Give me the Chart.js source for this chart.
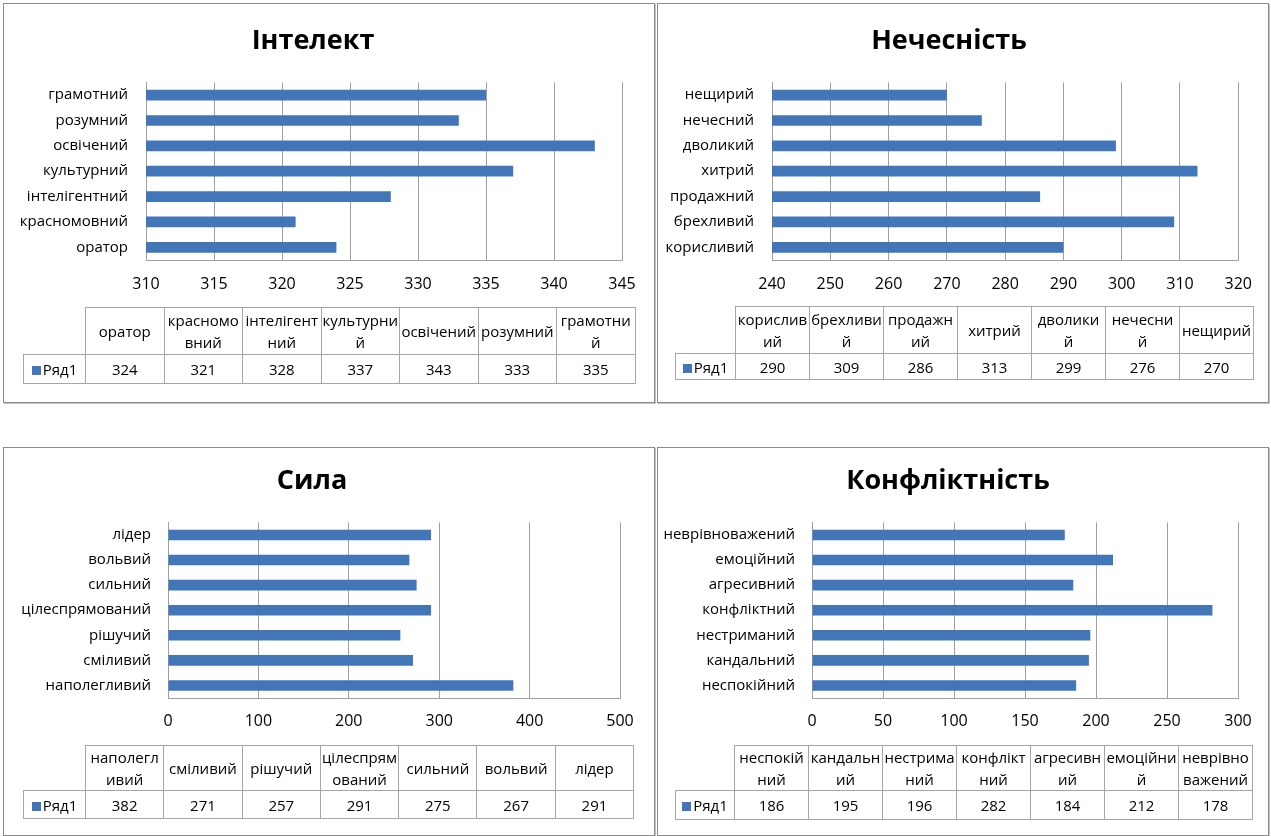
<!DOCTYPE html>
<html>
<head>
<meta charset="utf-8">
<script src="https://cdn.jsdelivr.net/npm/chart.js@4.4.1/dist/chart.umd.min.js"></script>
<style>
  body { margin: 0; background: #fff; width: 1271px; height: 836px; overflow: hidden; position: relative; font-family: "Open Sans", sans-serif; }
  .panel { position: absolute; border: 1px solid #8a8a8a; box-shadow: 1px 1px 0 #c4c4c4; box-sizing: border-box; }
  canvas { position: absolute; }
  table.dt { position: absolute; border-collapse: collapse; table-layout: fixed; font-size: 15px; color: #000; }
  table.dt td { border: 1px solid #a6a6a6; text-align: center; padding: 0 1px; line-height: 22px; word-break: break-all; }
  table.dt td.blank { border: none; }
  .sw { display: inline-block; width: 9px; height: 9px; background: #4375b9; margin-right: 2px; }
</style>
</head>
<body>
<script>
// --- data ---
const intelLabels = ["оратор", "красномовний", "інтелігентний", "культурний", "освічений", "розумний", "грамотний"];
const intelValues = [324, 321, 328, 337, 343, 333, 335];
const intelTicks = [310, 315, 320, 325, 330, 335, 340, 345];

const dishLabels = ["корисливий", "брехливий", "продажний", "хитрий", "дволикий", "нечесний", "нещирий"];
const dishValues = [290, 309, 286, 313, 299, 276, 270];
const dishTicks = [240, 250, 260, 270, 280, 290, 300, 310, 320];

const powerLabels = ["наполегливий", "сміливий", "рішучий", "цілеспрямований", "сильний", "вольвий", "лідер"];
const powerValues = [382, 271, 257, 291, 275, 267, 291];
const powerTicks = [0, 100, 200, 300, 400, 500];

const conflLabels = ["неспокійний", "кандальний", "нестриманий", "конфліктний", "агресивний", "емоційний", "неврівноважений"];
const conflValues = [186, 195, 196, 282, 184, 212, 178];
const conflTicks = [0, 50, 100, 150, 200, 250, 300];

const seriesName = "Ряд1";

const BLUE = "#4375b9";
const GRID = "#a0a0a0";
Chart.defaults.font.family = '"Open Sans", sans-serif';

function addPanel(box) {
  const d = document.createElement("div");
  d.className = "panel";
  d.style.left = box[0] + "px"; d.style.top = box[1] + "px";
  d.style.width = box[2] + "px"; d.style.height = box[3] + "px";
  document.body.appendChild(d);
}

function drawChart(p) {
  const cv = document.createElement("canvas");
  cv.width = p.w; cv.height = p.h;
  cv.style.left = p.x + "px"; cv.style.top = p.y + "px";
  cv.style.width = p.w + "px"; cv.style.height = p.h + "px";
  document.body.appendChild(cv);

  const ticks = p.ticks;
  new Chart(cv.getContext("2d"), {
    type: "bar",
    data: {
      labels: p.labels,
      datasets: [{
        label: seriesName,
        data: p.values,
        backgroundColor: BLUE,
        borderWidth: 0,
        barPercentage: 0.42,
        categoryPercentage: 1
      }]
    },
    options: {
      indexAxis: "y",
      responsive: false,
      animation: false,
      devicePixelRatio: 1,
      layout: { padding: { left: 0, right: p.padRight, top: 0, bottom: 0 } },
      plugins: {
        legend: { display: false },
        tooltip: { enabled: false },
        title: {
          display: true,
          text: p.title,
          color: "#000",
          font: { size: 27, weight: "bold" },
          padding: { top: p.titleTop, bottom: p.titleBottom }
        }
      },
      scales: {
        x: {
          min: ticks[0],
          max: ticks[ticks.length - 1],
          ticks: { stepSize: ticks[1] - ticks[0], color: "#000", font: { size: 16 }, padding: p.tickPad, maxRotation: 0 },
          grid: { color: GRID, drawTicks: false },
          border: { display: true, color: GRID },
          afterFit: s => { s.height = p.axisH; }
        },
        y: {
          reverse: true,
          ticks: { color: "#000", font: { size: 15 }, padding: p.labelPad, autoSkip: false },
          grid: { display: false, drawTicks: false },
          border: { display: true, color: GRID },
          afterFit: s => { s.width = p.axisW; }
        }
      }
    }
  });
}

function buildTable(t, labels, values) {
  const tb = document.createElement("table");
  tb.className = "dt";
  tb.style.left = t.x + "px"; tb.style.top = t.y + "px";
  tb.style.width = (t.legendW + t.colW * labels.length) + "px";

  const cg = document.createElement("colgroup");
  const c0 = document.createElement("col"); c0.style.width = t.legendW + "px"; cg.appendChild(c0);
  labels.forEach(() => { const c = document.createElement("col"); c.style.width = t.colW + "px"; cg.appendChild(c); });
  tb.appendChild(cg);

  const r1 = tb.insertRow();
  r1.style.height = t.headH + "px";
  const b = r1.insertCell(); b.className = "blank";
  labels.forEach(l => { r1.insertCell().textContent = l; });

  const r2 = tb.insertRow();
  r2.style.height = t.rowH + "px";
  const lc = r2.insertCell();
  lc.innerHTML = '<span class="sw"></span>' + seriesName;
  values.forEach(v => { r2.insertCell().textContent = v; });

  document.body.appendChild(tb);
}

// --- panels ---
addPanel([3, 3, 652, 400]);
addPanel([657, 3, 612, 400]);
addPanel([3, 447, 652, 389]);
addPanel([657, 447, 612, 389]);

drawChart({ title: "Інтелект", labels: intelLabels, values: intelValues, ticks: intelTicks,
  x: 4, y: 4, w: 648, h: 306, titleTop: 21, titleBottom: 25, axisW: 142, padRight: 30, axisH: 50, tickPad: 15, labelPad: 18 });
drawChart({ title: "Нечесність", labels: dishLabels, values: dishValues, ticks: dishTicks,
  x: 658, y: 4, w: 609, h: 306, titleTop: 21, titleBottom: 25, axisW: 114, padRight: 27, axisH: 50, tickPad: 15, labelPad: 18 });
drawChart({ title: "Сила", labels: powerLabels, values: powerValues, ticks: powerTicks,
  x: 4, y: 448, w: 648, h: 300, titleTop: 17, titleBottom: 25, axisW: 164, padRight: 32, axisH: 50, tickPad: 14, labelPad: 17 });
drawChart({ title: "Конфліктність", labels: conflLabels, values: conflValues, ticks: conflTicks,
  x: 658, y: 448, w: 609, h: 300, titleTop: 17, titleBottom: 25, axisW: 154, padRight: 29, axisH: 50, tickPad: 14, labelPad: 17 });

buildTable({ x: 23, y: 307, legendW: 62, colW: 78.5, headH: 47, rowH: 29 }, intelLabels, intelValues);
buildTable({ x: 675, y: 306, legendW: 60, colW: 74, headH: 47, rowH: 26 }, dishLabels, dishValues);
buildTable({ x: 23, y: 745, legendW: 62, colW: 78.3, headH: 44, rowH: 28 }, powerLabels, powerValues);
buildTable({ x: 675, y: 745, legendW: 59, colW: 74, headH: 43, rowH: 29 }, conflLabels, conflValues);
</script>
</body>
</html>
